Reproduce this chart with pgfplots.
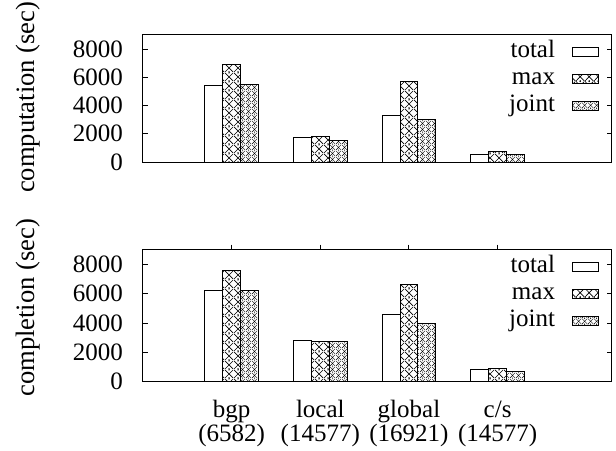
\documentclass[border=0pt]{standalone}
\usepackage{fontspec}
\setmainfont{Liberation Serif}
\usepackage{pgfplots}
\pgfplotsset{compat=1.18}
\usetikzlibrary{patterns}

\pgfdeclarepatternformonly{maxpat}{\pgfqpoint{0pt}{0pt}}{\pgfqpoint{4.5pt}{4.5pt}}{\pgfqpoint{4.5pt}{4.5pt}}{%
  \pgfsetlinewidth{0.35pt}%
  \pgfpathmoveto{\pgfqpoint{0pt}{0pt}}\pgfpathlineto{\pgfqpoint{4.5pt}{4.5pt}}%
  \pgfpathmoveto{\pgfqpoint{0pt}{4.5pt}}\pgfpathlineto{\pgfqpoint{4.5pt}{0pt}}%
  \pgfusepath{stroke}%
  \pgfpathcircle{\pgfqpoint{2.25pt}{0pt}}{0.45pt}%
  \pgfpathcircle{\pgfqpoint{2.25pt}{4.5pt}}{0.45pt}%
  \pgfusepath{fill}%
}
\pgfdeclarepatternformonly{jointpat}{\pgfqpoint{0pt}{0pt}}{\pgfqpoint{3pt}{3pt}}{\pgfqpoint{3pt}{3pt}}{%
  \pgfsetlinewidth{0.22pt}%
  \pgfpathmoveto{\pgfqpoint{0pt}{0pt}}\pgfpathlineto{\pgfqpoint{3pt}{3pt}}%
  \pgfpathmoveto{\pgfqpoint{0pt}{3pt}}\pgfpathlineto{\pgfqpoint{3pt}{0pt}}%
  \pgfusepath{stroke}%
  \pgfpathcircle{\pgfqpoint{1.5pt}{0pt}}{0.3pt}%
  \pgfpathcircle{\pgfqpoint{1.5pt}{3pt}}{0.3pt}%
  \pgfusepath{fill}%
}

\pgfplotstableread{
x total max joint
1 5400 6900 5470
2 1750 1830 1530
3 3300 5700 2980
4 550 750 560
}\comptable
\pgfplotstableread{
x total max joint
1 6250 7570 6230
2 2820 2750 2750
3 4580 6600 3950
4 810 920 720
}\compltable

\newcommand{\twol}[2]{\begin{tabular}{@{}c@{}}#1\\[-1pt]#2\end{tabular}}

\pgfplotsset{
  mylegend/.style={legend image code/.code={\draw[##1] (0pt,-2.3pt) rectangle (13.2pt,2.3pt);}},
  base/.style={
    scale only axis,
    width=234.5pt,
    xmin=0, xmax=5.29,
    ymin=0, ymax=9000,
    ytick={0,2000,4000,6000,8000},
    ytick pos=both,
    tick align=inside,
    major tick length=2.5pt,
    axis line style={line width=0.5pt},
    every tick/.style={line width=0.5pt, black},
    font=\fontsize{12.5}{13}\selectfont,
    /pgf/number format/assume math mode=true,
    /pgf/number format/1000 sep={},
    scaled y ticks=false,
    yticklabel shift=6.5pt,
    ybar=0pt,
    bar width=8.9pt,
    legend plot pos=right,
    legend cell align=right,
    legend style={at={(axis description cs:0.974,0.975)}, anchor=north east,
      draw=none, fill=none, inner sep=0pt, column sep=7pt,
      nodes={inner sep=1.5pt, text height=8pt, text depth=2.5pt},
      font=\fontsize{12.5}{13}\selectfont},
  },
}

\begin{document}
\begin{tikzpicture}
\path[use as bounding box] (0,0) rectangle (308pt,-225pt);

\begin{axis}[base,
  at={(71.5pt,-81pt)}, anchor=south west,
  height=63.5pt,
  xtick=\empty,
  every axis y label/.style={at={(axis description cs:-0.245,0.51)}, rotate=90, anchor=center, font=\fontsize{13.3}{14}\selectfont},
  ylabel={computation (sec)},
]
\addplot[draw=black, line width=0.5pt, fill=white, bar shift=-8.9pt, mylegend] table[x=x,y=total] {\comptable};
\addplot[draw=black, line width=0.5pt, pattern=maxpat, bar shift=0pt, mylegend] table[x=x,y=max] {\comptable};
\addplot[draw=black, line width=0.5pt, pattern=jointpat, bar shift=8.9pt, mylegend] table[x=x,y=joint] {\comptable};
\legend{total,max,joint}
\end{axis}

\begin{axis}[base,
  at={(71.5pt,-190.85pt)}, anchor=south west,
  height=66pt,
  xtick={1,2,3,4},
  xtick pos=right,
  xticklabel pos=left,
  xticklabels={\twol{bgp}{(6582)},\twol{local}{(14577)},\twol{global}{(16921)},\twol{c/s}{(14577)}},
  xticklabel shift=3pt,
  every axis y label/.style={at={(axis description cs:-0.245,0.56)}, rotate=90, anchor=center, font=\fontsize{13.3}{14}\selectfont},
  ylabel={completion (sec)},
]
\addplot[draw=black, line width=0.5pt, fill=white, bar shift=-8.9pt, mylegend] table[x=x,y=total] {\compltable};
\addplot[draw=black, line width=0.5pt, pattern=maxpat, bar shift=0pt, mylegend] table[x=x,y=max] {\compltable};
\addplot[draw=black, line width=0.5pt, pattern=jointpat, bar shift=8.9pt, mylegend] table[x=x,y=joint] {\compltable};
\legend{total,max,joint}
\end{axis}
\end{tikzpicture}
\end{document}
